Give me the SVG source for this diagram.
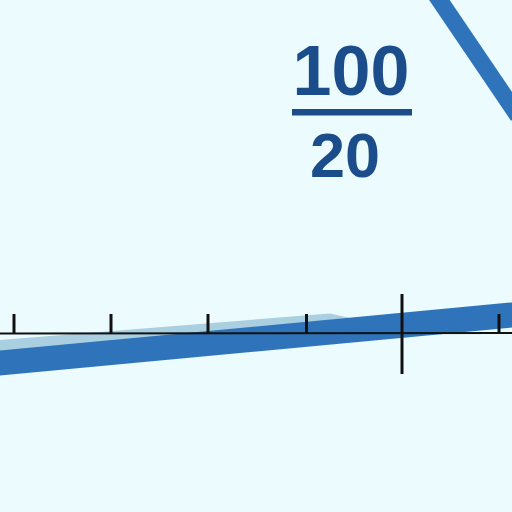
<svg xmlns="http://www.w3.org/2000/svg" width="512" height="512" viewBox="0 0 512 512">
<style>
.band{fill:none;stroke-linecap:butt}
.tick{stroke:#111;stroke-width:3}
.num{font-family:"Liberation Sans",Arial,sans-serif;font-weight:bold;fill:#1b4d8a;text-anchor:middle}
</style>
<rect width="512" height="512" fill="#ebfbfe"/>
<g id="bands">
<polygon points="0,340 330,313.5 350,318 0,354" fill="#a9cfe0"/>
<line class="band" x1="-5" y1="363.5" x2="517" y2="314.5" stroke="#2f74bb" stroke-width="25"/>
<line class="band" x1="436" y1="-5" x2="518" y2="116" stroke="#2f74bb" stroke-width="17"/>
</g>
<g id="axis">
<line x1="0" y1="333.5" x2="512" y2="333" stroke="#111" stroke-width="2.2"/>
<line class="tick" x1="14" y1="314" x2="14" y2="334"/>
<line class="tick" x1="111" y1="314" x2="111" y2="334"/>
<line class="tick" x1="208" y1="314" x2="208" y2="334"/>
<line class="tick" x1="306.5" y1="314" x2="306.5" y2="334"/>
<line class="tick" x1="402" y1="294" x2="402" y2="374"/>
<line class="tick" x1="499" y1="314" x2="499" y2="334"/>
</g>
<g id="fraction">
<text class="num" x="351" y="95" font-size="70">100</text>
<rect x="292" y="109" width="120" height="6.5" fill="#1b4d8a"/>
<text class="num" x="345" y="177" font-size="63">20</text>
</g>
</svg>
